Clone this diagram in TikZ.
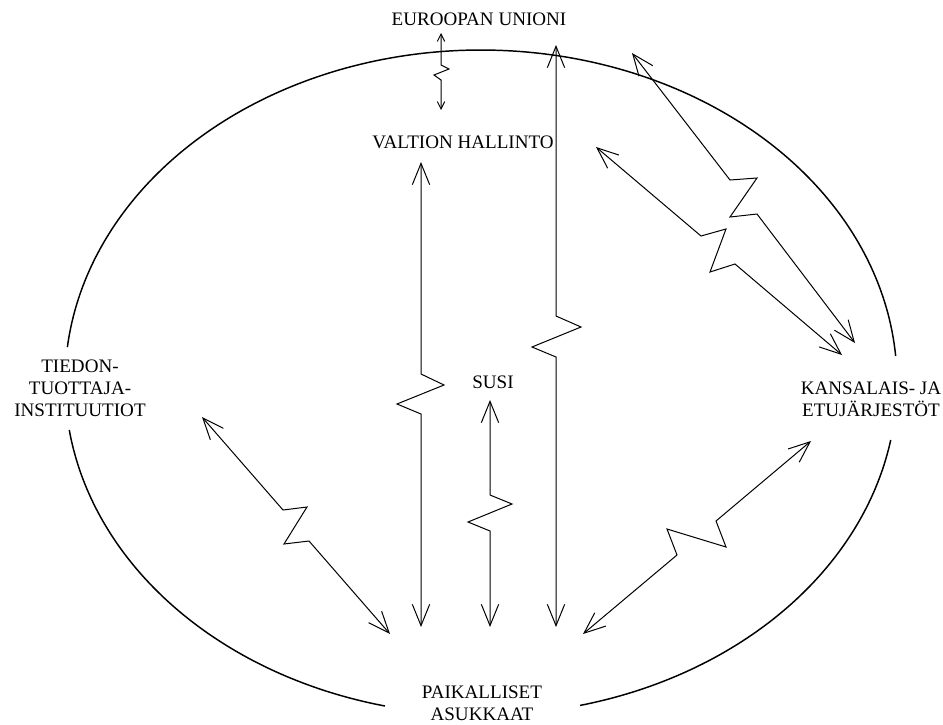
\documentclass[tikz,border=0pt]{standalone}
\usepackage{fontspec}
\setmainfont{Liberation Serif}
\usetikzlibrary{arrows.meta}
\begin{document}
\begin{tikzpicture}[x=0.75pt,y=-0.75pt,
  lbl/.style={font=\fontsize{14.3}{16.5}\selectfont, inner sep=0pt, align=center},
  rel/.style={line width=0.75pt, line join=miter,
    {Straight Barb[length=16pt,width=13pt]}-{Straight Barb[length=16pt,width=13pt]}},
  relsmall/.style={line width=0.75pt, line join=miter,
    {Straight Barb[length=5.5pt,width=5.5pt]}-{Straight Barb[length=5.5pt,width=5.5pt]}},
  oval/.style={line width=1.1pt}]
\useasboundingbox (0,0) rectangle (943,725);

% labels (anchor=base is the baseline of the last line)
\node[lbl, anchor=base] (eu) at (479,25) {EUROOPAN UNIONI};
\node[lbl, anchor=base] (valtio) at (463,148) {VALTION HALLINTO};
\node[lbl, anchor=base] (susi) at (493,388) {SUSI};
\node[lbl, anchor=base] (tieto) at (80,416) {TIEDON-\\TUOTTAJA-\\INSTITUUTIOT};
\node[lbl, anchor=base] (kansa) at (871,416) {KANSALAIS- JA\\ETUJÄRJESTÖT};
\node[lbl, anchor=base] (paikal) at (482,720) {PAIKALLISET\\ASUKKAAT};

% enclosing oval, broken where the labels sit
\draw[oval] plot[domain=9.96:76.23, samples=80] ({481+416*cos(\x)},{382.5+332.5*sin(\x)});
\draw[oval] plot[domain=103.34:171.8, samples=80] ({481+416*cos(\x)},{382.5+332.5*sin(\x)});
\draw[oval] plot[domain=186.1:355.43, samples=160] ({481+416*cos(\x)},{382.5+332.5*sin(\x)});

% arrow end points
\coordinate (euT) at (441,33);   \coordinate (euB) at (441,110);
\coordinate (vT) at (421,162);   \coordinate (vB) at (421,627);
\coordinate (sT) at (490,400);   \coordinate (sB) at (490,627);
\coordinate (eT) at (556,45);    \coordinate (eB) at (556,627);
\coordinate (tT) at (202,417);   \coordinate (tB) at (390,634);
\coordinate (kT) at (811,441);   \coordinate (kB) at (583,634);
\coordinate (aT) at (596,147);   \coordinate (aB) at (842,355);
\coordinate (bT) at (632,53);    \coordinate (bB) at (855,343);

% relations
\draw[relsmall] (euT) -- (441,65) -- (449,69) -- (434,75) -- (441,80) -- (euB);
\draw[rel] (vT) -- (421,374) -- (444,385) -- (397,404) -- (421,414) -- (vB);
\draw[rel] (sT) -- (490,495) -- (512,504) -- (468,522) -- (490,531) -- (sB);
\draw[rel] (eT) -- (556,316) -- (581,327) -- (532,347) -- (556,357) -- (eB);
\draw[rel] (tT) -- (283,510) -- (307,507) -- (284,544) -- (309,541) -- (tB);
\draw[rel] (kT) -- (716,521) -- (726,547) -- (667,529) -- (677,555) -- (kB);
\draw[rel] (aT) -- (701,236) -- (726,229) -- (710,272) -- (735,264) -- (aB);
\draw[rel] (bT) -- (730,180) -- (757,178) -- (730,217) -- (757,214) -- (bB);
\end{tikzpicture}
\end{document}
